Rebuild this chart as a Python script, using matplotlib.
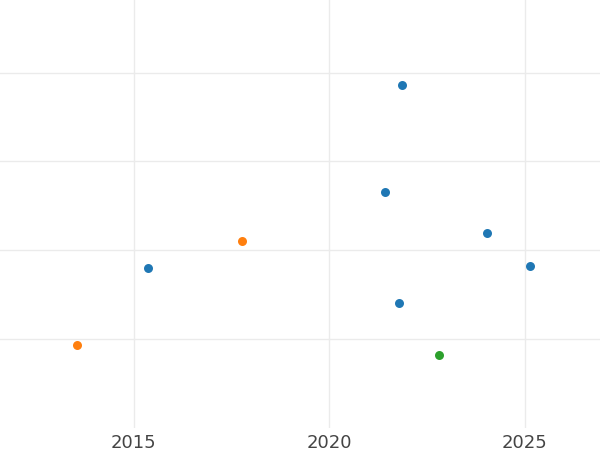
import numpy as np
import matplotlib
matplotlib.use("Agg")
import matplotlib.pyplot as plt

# points (x = year, y = unlabelled value)
blue_x = [2021.87, 2021.44, 2024.05, 2015.36, 2025.13, 2021.79]
blue_y = [3.86, 2.65, 2.19, 1.80, 1.82, 1.40]
orange_x = [2017.77, 2013.56]
orange_y = [2.10, 0.93]
green_x = [2022.82]
green_y = [0.81]

x_ticks = [2015, 2020, 2025]
y_ticks = [1, 2, 3, 4]

fig = plt.figure(figsize=(6, 4.5), dpi=100)
ax = fig.add_axes([0, 22 / 450, 1, 428 / 450])

ax.scatter(blue_x, blue_y, s=42, color='#1f77b4', zorder=3, linewidths=0)
ax.scatter(orange_x, orange_y, s=42, color='#ff7f0e', zorder=3, linewidths=0)
ax.scatter(green_x, green_y, s=42, color='#2ca02c', zorder=3, linewidths=0)

ax.set_xlim(2011.58, 2026.93)
ax.set_ylim(-0.01, 4.82)
ax.set_xticks(x_ticks)
ax.set_yticks(y_ticks)
ax.set_yticklabels([])
ax.tick_params(axis='both', length=0, labelsize=13, labelcolor='#444444', pad=4)
ax.grid(True, color='#ebebeb', linewidth=1)
ax.set_axisbelow(True)
for s in ax.spines.values():
    s.set_visible(False)

plt.savefig('out.png', dpi=100)
